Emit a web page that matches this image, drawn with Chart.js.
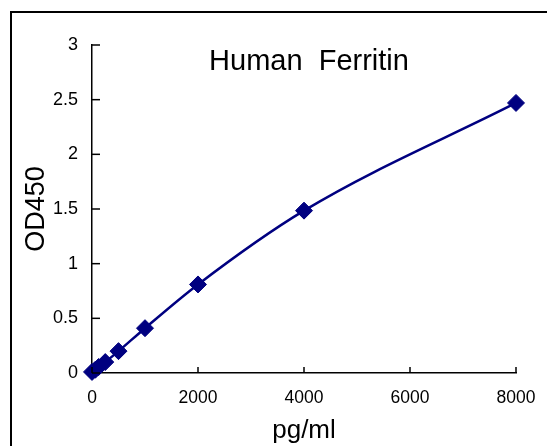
<!DOCTYPE html>
<html>
<head>
<meta charset="utf-8">
<script src="https://cdn.jsdelivr.net/npm/chart.js@4.4.1/dist/chart.umd.min.js"></script>
<style>
    html, body { margin: 0; padding: 0; background: #fff; }
    #wrap { position: relative; width: 547px; height: 446px; overflow: hidden; }
    #frame {
        position: absolute; left: 10px; top: 11px;
        width: 600px; height: 500px;
        border: 2px solid #000;
    }
    #chart { position: absolute; left: 0; top: 0; }
</style>
</head>
<body>
<div id="wrap">
    <div id="frame"></div>
    <canvas id="chart" width="547" height="446"></canvas>
</div>
<script>
// Standard curve data
const concentrations = [0, 62.5, 125, 250, 500, 1000, 2000, 4000, 8000];
const odValues = [0.01, 0.03, 0.055, 0.10, 0.20, 0.41, 0.81, 1.485, 2.47];
const xTickLabels = ['0', '2000', '4000', '6000', '8000'];
const yTickLabels = ['0', '0.5', '1', '1.5', '2', '2.5', '3'];

const FONT = '"Liberation Sans", Arial, sans-serif';
const NAVY = '#000080';

// Title drawn inside the plot, plus inward tick marks
const innerDecor = {
    id: 'innerDecor',
    afterDraw(chart) {
        const ctx = chart.ctx;
        const xs = chart.scales.x;
        const ys = chart.scales.y;
        const area = chart.chartArea;
        ctx.save();
        ctx.strokeStyle = '#000';
        ctx.lineWidth = 1.5;
        ys.ticks.forEach(t => {
            const y = ys.getPixelForValue(t.value);
            ctx.beginPath();
            ctx.moveTo(area.left, y);
            ctx.lineTo(area.left + 8, y);
            ctx.stroke();
        });
        xs.ticks.forEach(t => {
            const x = xs.getPixelForValue(t.value);
            ctx.beginPath();
            ctx.moveTo(x, area.bottom);
            ctx.lineTo(x, area.bottom - 6);
            ctx.stroke();
        });
        ctx.fillStyle = '#000';
        ctx.font = '29px ' + FONT;
        ctx.textAlign = 'center';
        ctx.textBaseline = 'middle';
        ctx.fillText('Human  Ferritin', 309, 62);
        ctx.restore();
    }
};

new Chart(document.getElementById('chart'), {
    type: 'line',
    data: {
        datasets: [{
            data: concentrations.map((c, i) => ({ x: c, y: odValues[i] })),
            borderColor: NAVY,
            backgroundColor: NAVY,
            borderWidth: 2.5,
            cubicInterpolationMode: 'monotone',
            pointStyle: 'rectRot',
            pointRadius: 8.5,
            pointBorderWidth: 1,
            pointBorderColor: NAVY,
            pointBackgroundColor: NAVY,
            clip: false
        }]
    },
    options: {
        responsive: false,
        animation: false,
        layout: { padding: { left: 20, right: 31, top: 45, bottom: 0 } },
        plugins: {
            legend: { display: false },
            tooltip: { enabled: false }
        },
        scales: {
            x: {
                type: 'linear',
                min: 0,
                max: 8000,
                afterFit: s => { s.height = 73; s.paddingRight = 0; s.paddingLeft = 0; },
                grid: { display: false, drawTicks: false },
                border: { display: true, color: '#000', width: 1.5 },
                ticks: {
                    stepSize: 2000,
                    padding: 15,
                    color: '#000',
                    font: { family: FONT, size: 17.5 },
                    callback: (v, i) => xTickLabels[i]
                },
                title: {
                    display: true,
                    text: 'pg/ml',
                    color: '#000',
                    font: { family: FONT, size: 26 },
                    padding: { top: 0, bottom: 0 }
                }
            },
            y: {
                min: 0,
                max: 3,
                afterFit: s => { s.width = 72; },
                grid: { display: false, drawTicks: false },
                border: { display: true, color: '#000', width: 1.5 },
                ticks: {
                    stepSize: 0.5,
                    padding: 14,
                    color: '#000',
                    font: { family: FONT, size: 18 },
                    callback: (v, i) => yTickLabels[i]
                },
                title: {
                    display: true,
                    text: 'OD450',
                    color: '#000',
                    font: { family: FONT, size: 27 },
                    padding: { top: 0, bottom: 0 }
                }
            }
        }
    },
    plugins: [innerDecor]
});
</script>
</body>
</html>
